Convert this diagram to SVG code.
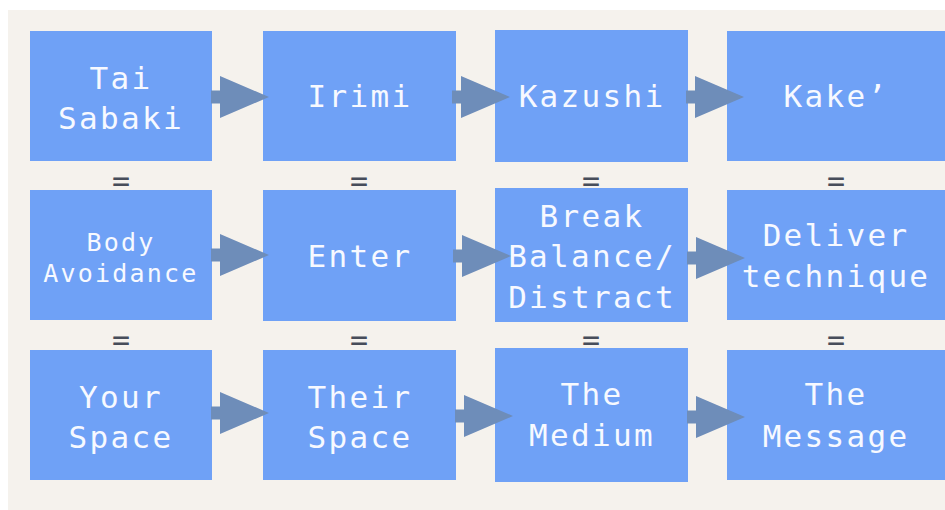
<svg xmlns="http://www.w3.org/2000/svg" width="945" height="510" viewBox="0 0 945 510">
  <defs>
    <style>
      .box { fill: #6fa1f6; }
      .lbl { fill: #f7f9ff; font-family: "DejaVu Sans Mono", "Liberation Mono", monospace; font-size: 31px; letter-spacing: 2.3px; text-anchor: middle; }
      .sm { font-size: 25px; letter-spacing: 2.2px; }
      .eq { fill: #474d5a; font-family: "DejaVu Sans Mono", "Liberation Mono", monospace; font-size: 30px; text-anchor: middle; }
      .arrow { fill: #6e8db9; }
    </style>
    <!-- block arrow: stub shaft plus triangular head, origin at the left end of the shaft, centred vertically -->
    <path id="blockArrow" d="M0,-6.5 H9 V-21 L58,0 L9,21 V6.5 H0 Z"/>
  </defs>

  <!-- page -->
  <rect x="0" y="0" width="945" height="510" fill="#ffffff"/>
  <rect x="8" y="10" width="937" height="500" fill="#f5f2ed"/>

  <!-- row 1 -->
  <g id="tai-sabaki">
    <rect class="box" x="30" y="31" width="182" height="130"/>
    <text class="lbl" x="121" y="89">Tai</text>
    <text class="lbl" x="121" y="129">Sabaki</text>
  </g>
  <g id="irimi">
    <rect class="box" x="263" y="31" width="193" height="130"/>
    <text class="lbl" x="360" y="107">Irimi</text>
  </g>
  <g id="kazushi">
    <rect class="box" x="495" y="30" width="193" height="132"/>
    <text class="lbl" x="592" y="107">Kazushi</text>
  </g>
  <g id="kake">
    <rect class="box" x="727" y="31" width="218" height="130"/>
    <text class="lbl" x="836" y="107">Kake’</text>
  </g>

  <!-- row 2 -->
  <g id="body-avoidance">
    <rect class="box" x="30" y="190" width="182" height="130"/>
    <text class="lbl sm" x="121" y="251">Body</text>
    <text class="lbl sm" x="121" y="282">Avoidance</text>
  </g>
  <g id="enter">
    <rect class="box" x="263" y="190" width="193" height="131"/>
    <text class="lbl" x="360" y="267">Enter</text>
  </g>
  <g id="break-balance">
    <rect class="box" x="495" y="188" width="193" height="134"/>
    <text class="lbl" x="592" y="227">Break</text>
    <text class="lbl" x="592" y="267">Balance/</text>
    <text class="lbl" x="592" y="308">Distract</text>
  </g>
  <g id="deliver-technique">
    <rect class="box" x="727" y="190" width="218" height="130"/>
    <text class="lbl" x="836" y="246">Deliver</text>
    <text class="lbl" x="836" y="287">technique</text>
  </g>

  <!-- row 3 -->
  <g id="your-space">
    <rect class="box" x="30" y="350" width="182" height="130"/>
    <text class="lbl" x="121" y="408">Your</text>
    <text class="lbl" x="121" y="448">Space</text>
  </g>
  <g id="their-space">
    <rect class="box" x="263" y="350" width="193" height="130"/>
    <text class="lbl" x="360" y="408">Their</text>
    <text class="lbl" x="360" y="448">Space</text>
  </g>
  <g id="the-medium">
    <rect class="box" x="495" y="348" width="193" height="134"/>
    <text class="lbl" x="592" y="405">The</text>
    <text class="lbl" x="592" y="446">Medium</text>
  </g>
  <g id="the-message">
    <rect class="box" x="727" y="350" width="218" height="130"/>
    <text class="lbl" x="836" y="405">The</text>
    <text class="lbl" x="836" y="447">Message</text>
  </g>

  <!-- equivalence marks between rows -->
  <g id="equals">
    <text class="eq" x="121" y="191">=</text>
    <text class="eq" x="359" y="191">=</text>
    <text class="eq" x="591" y="191">=</text>
    <text class="eq" x="836" y="191">=</text>
    <text class="eq" x="121" y="350">=</text>
    <text class="eq" x="359" y="350">=</text>
    <text class="eq" x="591" y="350">=</text>
    <text class="eq" x="836" y="350">=</text>
  </g>

  <!-- connectors -->
  <g id="connectors" class="arrow">
    <use href="#blockArrow" x="211" y="97"/>
    <use href="#blockArrow" x="452" y="97"/>
    <use href="#blockArrow" x="686" y="97"/>
    <use href="#blockArrow" x="211" y="255"/>
    <use href="#blockArrow" x="453" y="256"/>
    <use href="#blockArrow" x="687" y="258"/>
    <use href="#blockArrow" x="211" y="413"/>
    <use href="#blockArrow" x="455" y="416"/>
    <use href="#blockArrow" x="687" y="417"/>
  </g>
</svg>
